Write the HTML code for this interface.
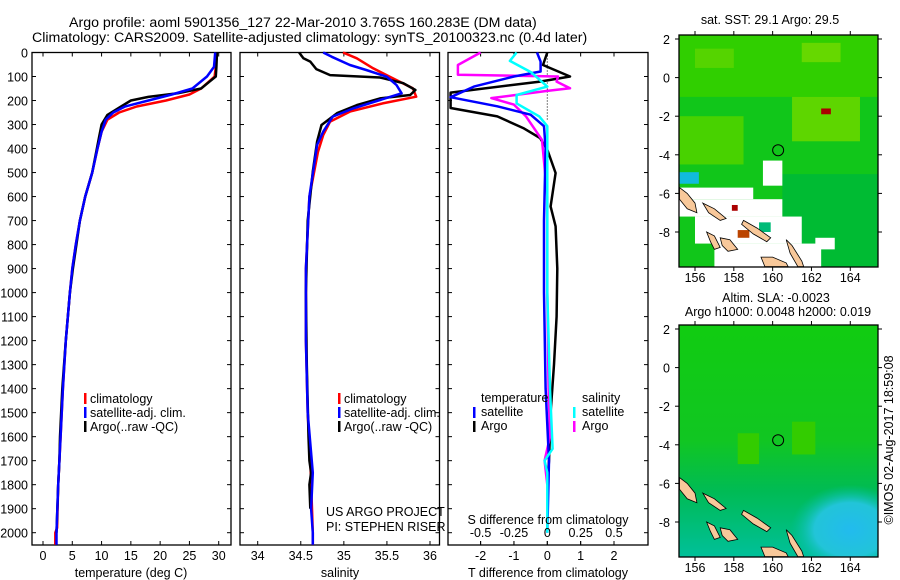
<!DOCTYPE html>
<html><head><meta charset="utf-8"><style>
html,body{margin:0;padding:0;background:#fff;}
svg{display:block;font-family:"Liberation Sans",sans-serif;}
</style></head><body>
<svg id="fig" width="900" height="580" viewBox="0 0 900 580" xmlns="http://www.w3.org/2000/svg">
<text x="69" y="27" font-size="14.2">Argo profile: aoml 5901356_127 22-Mar-2010 3.765S 160.283E (DM data)</text>
<text x="32" y="42" font-size="14.2">Climatology: CARS2009. Satellite-adjusted climatology: synTS_20100323.nc (0.4d later)</text>
<g id="p1"></g>
<g id="p2"></g>
<g id="p3"></g>
<g id="m1"></g>
<g id="m2"></g>
<text x="770" y="24" font-size="12.5" text-anchor="middle">sat. SST: 29.1 Argo: 29.5</text>
<text x="776" y="302" font-size="12.5" text-anchor="middle">Altim. SLA: -0.0023</text>
<text x="778" y="316" font-size="12.5" text-anchor="middle">Argo h1000: 0.0048 h2000: 0.019</text>
<text transform="translate(893,440) rotate(-90)" font-size="12.5" text-anchor="middle">©IMOS 02-Aug-2017 18:59:08</text>
</svg>
<script>
// ---------- data ----------
const depthTicks = [0,100,200,300,400,500,600,700,800,900,1000,1100,1200,1300,1400,1500,1600,1700,1800,1900,2000];
const tempTicks = [0,5,10,15,20,25,30];
const salTicks = [34,34.5,35,35.5,36];
const tdiffTicks = [-2,-1,0,1,2];
const sdiffTicks = [-0.5,-0.25,0,0.25,0.5];
const sdiffTickLabels = ["-0.5","-0.25","0","0.25","0.5"];

const tClimDepth = [0,60,100,150,175,200,225,250,280,330,400,500,600,700,800,900,1000,1200,1400,1600,1800,1980,2000,2050];
const tClim      = [29.6,29.5,29.3,27,25,21,16,13,11,10,9.3,8.4,7.2,6.3,5.6,5.0,4.6,3.9,3.4,3.0,2.6,2.4,2.1,2.1];
const tSatDepth  = [0,60,100,150,175,200,225,250,280,330,400,500,600,700,800,900,1000,1200,1400,1600,1800,2000,2050];
const tSat       = [29.4,29.2,28,25.5,22,18,14,12,10.7,10,9.3,8.4,7.2,6.3,5.6,5.0,4.6,3.9,3.4,3.0,2.6,2.3,2.3];
const tArgoDepth = [0,60,100,120,150,170,185,200,230,260,300,350,400,500,600,700,800,900,1000,1200,1400,1600,1700,1800,2000];
const tArgo      = [29.7,29.6,29.5,28.5,27,23,18,15,13,11,10,9.6,9.2,8.4,7.2,6.3,5.7,5.1,4.6,3.9,3.3,2.9,2.8,2.6,2.3];

const sClimDepth = [0,24,66,108,149,184,212,246,288,344,413,600,900,1200,1500,1700,1900,2000,2050];
const sClim      = [34.99,35.15,35.34,35.57,35.80,35.84,35.45,35.07,34.84,34.76,34.70,34.60,34.56,34.56,34.58,34.61,34.63,34.64,34.64];
const sSatDepth  = [0,18,52,73,101,135,170,198,233,267,330,385,600,900,1200,1500,1750,1900,2000,2050];
const sSat       = [34.76,34.86,35.07,35.26,35.50,35.61,35.67,35.42,35.11,34.87,34.76,34.69,34.60,34.56,34.56,34.58,34.64,34.62,34.64,34.64];
const sArgoDepth = [0,24,38,69,94,104,128,156,177,191,219,253,302,371,496,700,1000,1300,1600,1700,1750,1800,1900];
const sArgo      = [34.48,34.53,34.61,34.68,34.84,35.42,35.69,35.83,35.77,35.42,35.15,34.92,34.74,34.69,34.64,34.58,34.56,34.57,34.59,34.60,34.62,34.60,34.61];

const dtSatDepth  = [0,38,79,100,142,186,224,259,307,400,700,1000,1400,1700,2000];
const dtSat       = [-0.31,-0.2,-0.2,-1.0,-2.2,-2.9,-1.5,-0.5,-0.1,-0.05,-0.1,-0.1,-0.05,0.05,0];
const dtArgoDepth = [0,52,100,121,167,231,266,315,356,405,502,641,724,900,1100,1300,1500,1700,1800];
const dtArgo      = [0,-0.13,0.68,-0.22,-2.9,-2.9,-1.5,-0.72,-0.22,0,0.25,0.1,0.25,0.3,0.28,0.2,0.1,0.05,0];
const dsSatDepth  = [0,35,83,142,177,212,266,307,600,1000,1400,1650,1700,1750,2000];
const dsSat       = [-0.23,-0.28,-0.12,0,-0.23,-0.23,-0.06,0,0,0,0.02,0.04,-0.02,0,0];
const dsArgoDepth = [0,52,93,100,121,149,160,190,217,266,364,600,1000,1400,1600,1650,1700,1800];
const dsArgo      = [-0.5,-0.67,-0.67,0.08,0.07,0.17,0,-0.42,-0.25,-0.16,-0.04,0,0,0.01,0.02,0,-0.02,0];

const latTicks = [2,0,-2,-4,-6,-8];
const lonTicks = [156,158,160,162,164];
const argoLon = 160.283, argoLat = -3.765;

// ---------- helpers ----------
const NS="http://www.w3.org/2000/svg";
function mk(tag, attrs, parent){const e=document.createElementNS(NS,tag);for(const k in attrs)e.setAttribute(k,attrs[k]);parent.appendChild(e);return e;}
const Y0=52.5, YS=0.2401;
const yD = d => Y0 + d*YS;
const FS=12.5;

function frame(g,x0,x1,name){
  const r=mk('rect',{x:x0,y:52.5,width:x1-x0,height:492.5,fill:'none',stroke:'#000','stroke-width':1.3},g);
  
  
}
function line(g,xs,ds,fx,color,w,name){
  const pts=xs.map((v,i)=>fx(v).toFixed(1)+','+yD(ds[i]).toFixed(1)).join(' ');
  const p=mk('polyline',{points:pts,fill:'none',stroke:color,'stroke-width':w,'stroke-linejoin':'round'},g);
  
  
}
function text(g,x,y,s,anchor,name,size){
  const t=mk('text',{x:x,y:y,'font-size':size||FS,'text-anchor':anchor||'start'},g);
  t.textContent=s;
  
  
  return t;
}
function xticks(g,vals,labels,fx,yBase,name){
  vals.forEach((v,i)=>{
    const x=fx(v);
    mk('line',{x1:x,y1:yBase,x2:x,y2:yBase-4,stroke:'#000'},g);
    mk('line',{x1:x,y1:52.5,x2:x,y2:56.5,stroke:'#000'},g);
    text(g,x,yBase+15,labels[i],'middle',name);
  });
}
function legendBar(g,x,y,color){
  const r=mk('rect',{x:x,y:y-10,width:2.5,height:11,fill:color},g);
  
  
}

// ---------- panel 1 ----------
const p1=document.getElementById('p1');
const fT = t => 43 + t*5.857;
frame(p1,32,231,'temperature-frame');
depthTicks.forEach(d=>{
  mk('line',{x1:32,y1:yD(d),x2:36,y2:yD(d),stroke:'#000'},p1);
  mk('line',{x1:231,y1:yD(d),x2:227,y2:yD(d),stroke:'#000'},p1);
  text(p1,28,yD(d)+5,String(d),'end','depth-tick-label');
});
xticks(p1,tempTicks,tempTicks.map(String),fT,545,'temperature-tick-label');
line(p1,tClim,tClimDepth,fT,'#ff0000',2.5,'temperature-climatology-line');
line(p1,tArgo,tArgoDepth,fT,'#000000',2.5,'temperature-argo-line');
line(p1,tSat,tSatDepth,fT,'#0000ff',2.5,'temperature-satellite-line');
text(p1,131,577,'temperature (deg C)','middle','temperature-axis-title');
legendBar(p1,84,403,'#ff0000');text(p1,90,403,'climatology','start','legend-climatology');
legendBar(p1,84,417,'#0000ff');text(p1,90,417,'satellite-adj. clim.','start','legend-satellite');
legendBar(p1,84,431,'#000000');text(p1,90,431,'Argo(..raw -QC)','start','legend-argo');

// ---------- panel 2 ----------
const p2=document.getElementById('p2');
const fS = s => 257.7 + (s-34)*86.15;
frame(p2,240,439.5,'salinity-frame');
depthTicks.forEach(d=>{
  mk('line',{x1:240,y1:yD(d),x2:244,y2:yD(d),stroke:'#000'},p2);
  mk('line',{x1:439.5,y1:yD(d),x2:435.5,y2:yD(d),stroke:'#000'},p2);
});
xticks(p2,salTicks,salTicks.map(String),fS,545,'salinity-tick-label');
line(p2,sClim,sClimDepth,fS,'#ff0000',2.5,'salinity-climatology-line');
line(p2,sArgo,sArgoDepth,fS,'#000000',2.5,'salinity-argo-line');
line(p2,sSat,sSatDepth,fS,'#0000ff',2.5,'salinity-satellite-line');
text(p2,340,577,'salinity','middle','salinity-axis-title');
legendBar(p2,338,403,'#ff0000');text(p2,344,403,'climatology','start','legend-climatology');
legendBar(p2,338,417,'#0000ff');text(p2,344,417,'satellite-adj. clim.','start','legend-satellite');
legendBar(p2,338,431,'#000000');text(p2,344,431,'Argo(..raw -QC)','start','legend-argo');
text(p2,326,516,'US ARGO PROJECT','start','project-label');
text(p2,326,531,'PI: STEPHEN RISER','start','pi-label');

// ---------- panel 3 ----------
const p3=document.getElementById('p3');
const fDT = t => 547.3 + t*33.35;
const fDS = s => 547.3 + s*133.4;
frame(p3,448,648,'difference-frame');
depthTicks.forEach(d=>{
  mk('line',{x1:448,y1:yD(d),x2:452,y2:yD(d),stroke:'#000'},p3);
  mk('line',{x1:648,y1:yD(d),x2:644,y2:yD(d),stroke:'#000'},p3);
});
xticks(p3,tdiffTicks,tdiffTicks.map(String),fDT,545,'tdiff-tick-label');
const zl=mk('line',{x1:fDT(0),y1:yD(0),x2:fDT(0),y2:yD(280),stroke:'#000','stroke-dasharray':'1,2'},p3);


line(p3,dtArgo,dtArgoDepth,fDT,'#000000',2.5,'tdiff-argo-line');
line(p3,dsArgo,dsArgoDepth,fDS,'#ff00ff',2.5,'sdiff-argo-line');
line(p3,dtSat,dtSatDepth,fDT,'#0000ff',2.5,'tdiff-satellite-line');
line(p3,dsSat,dsSatDepth,fDS,'#00ffff',2.5,'sdiff-satellite-line');
sdiffTicks.forEach((v,i)=>{
  mk('line',{x1:fDS(v),y1:545,x2:fDS(v),y2:541,stroke:'#000'},p3);
  text(p3,fDS(v),537,sdiffTickLabels[i],'middle','sdiff-tick-label');
});
text(p3,548,524,'S difference from climatology','middle','sdiff-axis-title');
text(p3,548,577,'T difference from climatology','middle','tdiff-axis-title');
text(p3,481,402,'temperature','start','legend-temperature-header');
legendBar(p3,473,417,'#0000ff');text(p3,481,416,'satellite','start','legend-tdiff-satellite');
legendBar(p3,473,431,'#000000');text(p3,481,430,'Argo','start','legend-tdiff-argo');
text(p3,582,402,'salinity','start','legend-salinity-header');
legendBar(p3,573,417,'#00ffff');text(p3,582,416,'satellite','start','legend-sdiff-satellite');
legendBar(p3,573,431,'#ff00ff');text(p3,582,430,'Argo','start','legend-sdiff-argo');

// ---------- maps ----------
const islands = [
  [[155.2,-5.7],[155.6,-6.0],[156.0,-6.5],[156.1,-7.0],[155.6,-6.8],[155.2,-6.3]],
  [[156.4,-6.5],[157.0,-6.8],[157.6,-7.3],[157.3,-7.4],[156.7,-7.0]],
  [[158.5,-7.4],[159.2,-7.8],[159.9,-8.3],[159.7,-8.5],[159.0,-8.1],[158.4,-7.6]],
  [[156.6,-8.0],[157.0,-8.2],[157.3,-8.8],[157.0,-8.9],[156.8,-8.5]],
  [[157.3,-8.3],[157.8,-8.4],[158.2,-8.9],[157.7,-9.0],[157.4,-8.7]],
  [[160.7,-8.4],[161.0,-8.7],[161.5,-9.5],[161.6,-9.8],[161.3,-9.8],[160.9,-9.1]],
  [[159.4,-9.3],[160.0,-9.3],[160.7,-9.6],[160.8,-9.8],[159.6,-9.8]]
];
function drawMap(id, top, bot, kind){
  const g=document.getElementById(id);
  const L=679, R=878, lonX = lo => 695 + (lo-156)*19.41, latY = la => top+4 + (2-la)*19.3;
  const cp=mk('clipPath',{id:'clip'+id},g);
  mk('rect',{x:L,y:top,width:R-L,height:bot-top},cp);
  const c=mk('g',{'clip-path':'url(#clip'+id+')'},g);
  function rect(lo0,la0,lo1,la1,col,name){
    const r=mk('rect',{x:lonX(lo0),y:latY(la0),width:lonX(lo1)-lonX(lo0),height:latY(la1)-latY(la0),fill:col},c);
    
    
  }
  if(kind==='sst'){
    rect(154,3,166,-11,'#11c61a','sst-base');
    rect(155,2.2,166,-1,'#30cf00','sst-north');
    rect(156,1.5,158,0.5,'#55d400','sst-patch');
    rect(161.5,1.8,163.5,0.8,'#66d800','sst-patch');
    rect(155,-2,158.5,-4.5,'#48d200','sst-west-patch');
    rect(161,-1,164.5,-3.3,'#5ed600','sst-east-patch');
    rect(160.5,-5,166,-10,'#00bb33','sst-southeast');
    rect(162.5,-1.6,163,-1.9,'#aa0000','sst-hot-cell');
    rect(155.2,-4.9,156.2,-5.5,'#11bbdd','sst-cool-cell');
    rect(155.2,-5.7,159,-6.3,'#ffffff','mask');
    rect(155.2,-6.3,160.5,-7.2,'#ffffff','mask');
    rect(156,-7.2,161.5,-8.6,'#ffffff','mask');
    rect(157,-8.6,162.5,-10,'#ffffff','mask');
    rect(162.2,-8.3,163.2,-8.9,'#ffffff','mask');
    rect(159.5,-4.3,160.5,-5.6,'#ffffff','mask');
    rect(157.9,-6.6,158.2,-6.9,'#aa0000','sst-hot-cell');
    rect(158.2,-7.9,158.8,-8.3,'#bb4400','sst-hot-cell');
    rect(159.3,-7.5,159.9,-8.0,'#00bb77','sst-teal-cell');
  } else {
    const gr=mk('linearGradient',{id:'slag',x1:0,y1:0,x2:0,y2:1},g);
    mk('stop',{offset:'0','stop-color':'#11cc11'},gr);
    mk('stop',{offset:'0.5','stop-color':'#11c622'},gr);
    mk('stop',{offset:'0.72','stop-color':'#00bb55'},gr);
    mk('stop',{offset:'1','stop-color':'#00c09a'},gr);
    const b=mk('rect',{x:L,y:top,width:R-L,height:bot-top,fill:'url(#slag)'},c);
    
    
    rect(158.2,-3.4,159.3,-5,'#33cc00','sla-patch');
    rect(161,-2.8,162.2,-4.5,'#33cc00','sla-patch');
    const rg=mk('radialGradient',{id:'slac'},g);
    mk('stop',{offset:'0','stop-color':'#22bbee'},rg);
    mk('stop',{offset:'0.6','stop-color':'#22c4d8'},rg);
    mk('stop',{offset:'1','stop-color':'#00c0a0','stop-opacity':'0'},rg);
    const e=mk('ellipse',{cx:lonX(164),cy:latY(-8.4),rx:60,ry:45,fill:'url(#slac)'},c);
    
    
  }
  islands.forEach(poly=>{
    const p=mk('polygon',{points:poly.map(q=>lonX(q[0]).toFixed(1)+','+latY(q[1]).toFixed(1)).join(' '),fill:'#f8c89a',stroke:'#000','stroke-width':0.8},c);
    
    
  });
  const ci=mk('circle',{cx:lonX(argoLon),cy:latY(argoLat),r:5.5,fill:'none',stroke:'#000','stroke-width':1},g);
  
  
  const fr=mk('rect',{x:L,y:top,width:R-L,height:bot-top,fill:'none',stroke:'#000','stroke-width':1.3},g);
  
  
  latTicks.forEach(la=>{
    const y=latY(la);
    mk('line',{x1:L,y1:y,x2:L-4,y2:y,stroke:'#000'},g);
    mk('line',{x1:R,y1:y,x2:R+4,y2:y,stroke:'#000'},g);
    text(g,670,y+5,String(la),'end','latitude-tick-label');
  });
  lonTicks.forEach(lo=>{
    const x=lonX(lo);
    mk('line',{x1:x,y1:top,x2:x,y2:top-4,stroke:'#000'},g);
    mk('line',{x1:x,y1:bot,x2:x,y2:bot+4,stroke:'#000'},g);
    text(g,x,bot+15,String(lo),'middle','longitude-tick-label');
  });
}
drawMap('m1',35,267,'sst');
drawMap('m2',325,557,'sla');
</script>
</body></html>
